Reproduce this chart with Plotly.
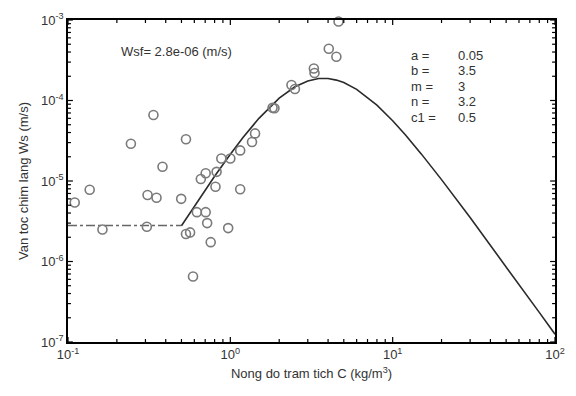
import math
import plotly.graph_objects as go

# Measured data points (C in kg/m3, Ws in m/s)
obs_c = [0.110, 0.136, 0.163, 0.244, 0.306, 0.309, 0.336, 0.351, 0.382, 0.498, 0.533,
         0.533, 0.565, 0.589, 0.622, 0.658, 0.705, 0.705, 0.72, 0.757, 0.81, 0.823,
         0.88, 0.97, 1.0, 1.15, 1.15, 1.36, 1.42, 1.82, 1.87, 2.38, 2.5, 3.27, 3.3,
         4.04, 4.5, 4.64]
obs_w = [5.4e-6, 7.8e-6, 2.5e-6, 2.9e-5, 2.7e-6, 6.7e-6, 6.6e-5, 6.2e-6, 1.5e-5, 6.0e-6, 3.3e-5,
         2.2e-6, 2.3e-6, 6.5e-7, 4.1e-6, 1.06e-5, 1.25e-5, 4.1e-6, 3.0e-6, 1.74e-6, 8.5e-6, 1.3e-5,
         1.9e-5, 2.6e-6, 1.9e-5, 2.4e-5, 7.9e-6, 3.05e-5, 3.9e-5, 8.1e-5, 8.0e-5, 1.56e-4, 1.39e-4, 2.5e-4, 2.2e-4,
         4.4e-4, 3.5e-4, 9.6e-4]

# Flocculation curve
curve_c = [0.5, 0.6, 0.7, 0.8, 1, 1.2, 1.5, 2, 2.5, 3, 3.5, 4, 4.5, 5, 6, 8, 10, 12, 15,
           20, 30, 40, 50, 60, 80, 100]
curve_w = [2.786e-6, 4.86e-6, 7.72e-6, 1.143e-5, 2.149e-5, 3.49e-5, 6.00e-5, 1.071e-4, 1.482e-4,
           1.752e-4, 1.873e-4, 1.873e-4, 1.793e-4, 1.669e-4, 1.376e-4, 8.75e-5, 5.60e-5, 3.725e-5,
           2.172e-5, 1.040e-5, 3.511e-6, 1.598e-6, 8.62e-7, 5.196e-7, 2.332e-7, 1.251e-7]

# Free settling part
free_c = [0.1, 0.5]
free_w = [2.8e-6, 2.8e-6]

x_tickvals = [0.1, 1, 10, 100]
x_ticktext = ["10<sup>-1</sup>", "10<sup>0</sup>", "10<sup>1</sup>", "10<sup>2</sup>"]
y_tickvals = [1e-7, 1e-6, 1e-5, 1e-4, 1e-3]
y_ticktext = ["10<sup>-7</sup>", "10<sup>-6</sup>", "10<sup>-5</sup>", "10<sup>-4</sup>", "10<sup>-3</sup>"]

x_minor = [m * d for d in (0.1, 1, 10) for m in range(2, 10)]
y_minor = [m * d for d in (1e-7, 1e-6, 1e-5, 1e-4) for m in range(2, 10)]

params = ["a =", "b =", "m =", "n =", "c1 ="]
param_vals = ["0.05", "3.5", "3", "3.2", "0.5"]

FONT = "Liberation Sans, Arial, sans-serif"
TXT = "#333333"
XR = [-1, 2]
YR = [-7, -3]
W, H = 576, 396
ML, MR, MT, MB = 68, 11, 20, 54
PW, PH = W - ML - MR, H - MT - MB

fig = go.Figure()
fig.add_trace(go.Scatter(x=free_c, y=free_w, mode="lines",
                         line=dict(color="#666666", width=1.3, dash="dashdot"),
                         showlegend=False))
fig.add_trace(go.Scatter(x=curve_c, y=curve_w, mode="lines",
                         line=dict(color="#2a2a2a", width=1.6),
                         showlegend=False))
fig.add_trace(go.Scatter(x=obs_c, y=obs_w, mode="markers", cliponaxis=False,
                         marker=dict(symbol="circle-open", size=9, color="#7a7a7a",
                                     line=dict(width=1.6, color="#7a7a7a")),
                         showlegend=False))

main_common = dict(type="log", showgrid=False, zeroline=False, showline=True,
                   linecolor="black", linewidth=1.5, mirror=True, ticks="",
                   tickmode="array", tickfont=dict(family=FONT, size=13, color=TXT))

fig.update_layout(
    xaxis=dict(range=XR, tickvals=x_tickvals, ticktext=x_ticktext,
               title=dict(text="Nong do tram tich C (kg/m<sup>3</sup>)",
                          font=dict(family=FONT, size=13, color=TXT), standoff=8),
               **main_common),
    yaxis=dict(range=YR, tickvals=y_tickvals, ticktext=y_ticktext,
               title=dict(text="Van toc chim lang Ws (m/s)",
                          font=dict(family=FONT, size=13, color=TXT), standoff=10),
               **main_common),
)


# inward tick marks on all four sides, derived from the tick value lists
def xfrac(v):
    return (math.log10(v) - XR[0]) / (XR[1] - XR[0])


def yfrac(v):
    return (math.log10(v) - YR[0]) / (YR[1] - YR[0])


tick_style = dict(color="black", width=1.2)
for vals, length in ((x_tickvals, 5), (x_minor, 3)):
    for v in vals:
        f = xfrac(v)
        for base, sign in ((0, 1), (1, -1)):
            fig.add_shape(type="line", xref="paper", yref="paper", layer="above",
                          x0=f, x1=f, y0=base, y1=base + sign * length / PH, line=tick_style)
for vals, length in ((y_tickvals, 5), (y_minor, 3)):
    for v in vals:
        f = yfrac(v)
        for base, sign in ((0, 1), (1, -1)):
            fig.add_shape(type="line", xref="paper", yref="paper", layer="above",
                          y0=f, y1=f, x0=base, x1=base + sign * length / PW, line=tick_style)

fig.add_annotation(xref="paper", yref="paper", x=(120 - ML) / PW, y=1 - (52 - MT) / PH,
                   text="Wsf= 2.8e-06 (m/s)", showarrow=False, xanchor="left", yanchor="middle",
                   font=dict(family=FONT, size=13, color=TXT))
for i, (p, v) in enumerate(zip(params, param_vals)):
    yy = 1 - (55 + i * 15.5 - MT) / PH
    fig.add_annotation(xref="paper", yref="paper", x=(416 - ML) / PW, y=yy, text=p,
                       showarrow=False, xanchor="left", yanchor="middle",
                       font=dict(family=FONT, size=13, color=TXT))
    fig.add_annotation(xref="paper", yref="paper", x=(464 - ML) / PW, y=yy, text=v,
                       showarrow=False, xanchor="left", yanchor="middle",
                       font=dict(family=FONT, size=13, color=TXT))

fig.update_layout(width=W, height=H, margin=dict(l=ML, r=MR, t=MT, b=MB),
                  plot_bgcolor="white", paper_bgcolor="white", showlegend=False)

fig.write_html("out.html")
